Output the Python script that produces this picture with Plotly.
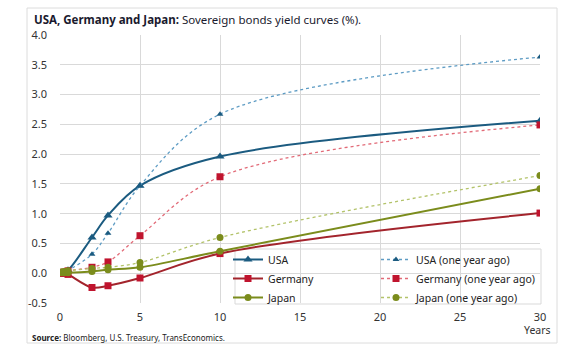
import plotly.graph_objects as go

maturities = [0.08, 0.25, 0.5, 2, 3, 5, 10, 30]
usa = [0.0, 0.02, 0.05, 0.60, 0.97, 1.47, 1.96, 2.56]
usa_ago = [0.02, 0.03, 0.05, 0.32, 0.67, 1.47, 2.67, 3.63]
germany = [0.0, 0.0, -0.02, -0.24, -0.21, -0.08, 0.33, 1.01]
germany_ago = [0.0, 0.02, 0.04, 0.10, 0.19, 0.63, 1.62, 2.49]
japan = [0.01, 0.01, 0.01, 0.03, 0.06, 0.10, 0.37, 1.42]
japan_ago = [0.02, 0.03, 0.04, 0.08, 0.10, 0.18, 0.60, 1.64]

x_ticks = [0, 5, 10, 15, 20, 25, 30]
y_ticks = [-0.5, 0.0, 0.5, 1.0, 1.5, 2.0, 2.5, 3.0, 3.5, 4.0]
y_ticktext = ["-0.5", "0.0", "0.5", "1.0", "1.5", "2.0", "2.5", "3.0", "3.5", "4.0"]

FONT = "Noto Sans"

series = [
    ("USA", usa, "#1b5b80", "solid", 2, "triangle-up", 8, "#1b5b80", "legend"),
    ("USA (one year ago)", usa_ago, "#5e9cc4", "dot", 1.3, "triangle-up", 6, "#1b5b80", "legend2"),
    ("Germany", germany, "#a3242c", "solid", 2, "square", 7, "#c0142e", "legend"),
    ("Germany (one year ago)", germany_ago, "#e26b78", "dot", 1.3, "square", 7, "#c0142e", "legend2"),
    ("Japan", japan, "#7b8c1c", "solid", 2, "circle", 7, "#7b8c1c", "legend"),
    ("Japan (one year ago)", japan_ago, "#b3c36a", "dot", 1.3, "circle", 7, "#7b8c1c", "legend2"),
]

fig = go.Figure()
for name, vals, lc, dash, w, sym, ms, mc, lg in series:
    fig.add_trace(go.Scatter(
        x=maturities, y=vals, name=name, mode="lines+markers", legend=lg,
        line=dict(color=lc, dash=dash, width=w, shape="spline", smoothing=1.0),
        marker=dict(symbol=sym, size=ms, color=mc),
    ))

def px_x(p):
    return (p - 60) / 480

def px_y(p):
    return (303 - p) / 268

leg_common = dict(
    orientation="v", yanchor="top", xanchor="left",
    bgcolor="rgba(0,0,0,0)", borderwidth=0,
    font=dict(family=FONT, size=10.5, color="#222222"),
    itemwidth=30, tracegroupgap=0,
)

fig.update_layout(
    width=580, height=360,
    margin=dict(l=60, r=40, t=35, b=57),
    paper_bgcolor="white", plot_bgcolor="white",
    font=dict(family=FONT, size=11, color="#333333"),
    showlegend=True,
    legend=dict(x=px_x(228), y=px_y(245), **leg_common),
    legend2=dict(x=px_x(376), y=px_y(245), **leg_common),
    xaxis=dict(
        range=[0, 30], tickvals=x_ticks, showgrid=True, gridcolor="#d9d9d9", gridwidth=1.3,
        zeroline=False, showline=False, ticks="", ticklabelstandoff=6,
        tickfont=dict(size=11, color="#333333"), automargin=False,
    ),
    yaxis=dict(
        range=[-0.5, 4.0], tickvals=y_ticks, ticktext=y_ticktext, showgrid=True,
        gridcolor="#d9d9d9", gridwidth=1.3, zeroline=False, showline=False, ticks="",
        ticklabelstandoff=12, tickfont=dict(size=11, color="#333333"), automargin=False,
    ),
    shapes=[
        dict(type="rect", xref="paper", yref="paper",
             x0=px_x(27), x1=px_x(557), y0=px_y(343), y1=px_y(8),
             line=dict(color="#dcdcdc", width=1), fillcolor="rgba(0,0,0,0)", layer="below"),
        dict(type="rect", xref="paper", yref="paper",
             x0=px_x(235), x1=px_x(541), y0=px_y(304), y1=px_y(249),
             line=dict(color="#d9d9d9", width=1), fillcolor="white", layer="between"),
    ],
    annotations=[
        dict(xref="paper", yref="paper", x=px_x(32), y=px_y(20), xanchor="left", yanchor="middle",
             showarrow=False,
             text="<b>USA, Germany and Japan:</b> Sovereign bonds yield curves (%).",
             font=dict(family=FONT, size=11.5, color="#1a1a2e")),
        dict(xref="paper", yref="paper", x=px_x(553), y=px_y(330), xanchor="right", yanchor="middle",
             showarrow=False, text="Years", font=dict(family=FONT, size=10.5, color="#333333")),
        dict(xref="paper", yref="paper", x=px_x(30), y=px_y(337), xanchor="left", yanchor="middle",
             showarrow=False,
             text="<b>Source:</b> Bloomberg, U.S. Treasury, TransEconomics.",
             font=dict(family=FONT, size=8, color="#222222")),
    ],
)

fig.write_html("out.html", config={"displayModeBar": False},
               post_script="document.body.style.margin='0px';")
